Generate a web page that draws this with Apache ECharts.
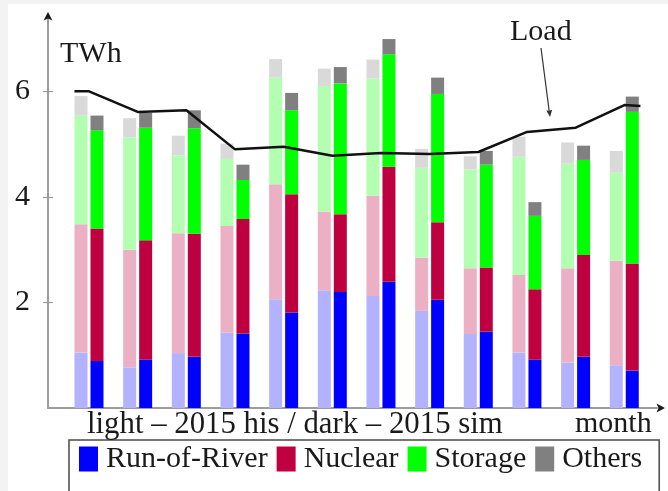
<!DOCTYPE html>
<html>
<head>
<meta charset="utf-8">
<script src="https://cdn.jsdelivr.net/npm/echarts@6/dist/echarts.min.js"></script>
<style>
  html, body { margin: 0; padding: 0; background: #f3f3f3; }
  #chart { width: 668px; height: 491px; }
</style>
</head>
<body>
<div id="chart"></div>
<script>
// Monthly electricity generation by source (TWh): 2015 historical vs. 2015 simulated
const months = [1, 2, 3, 4, 5, 6, 7, 8, 9, 10, 11, 12];

const hisRunOfRiver = [1.05, 0.77, 1.04, 1.43, 2.06, 2.23, 2.12, 1.84, 1.40, 1.05, 0.86, 0.81];
const hisNuclear    = [2.43, 2.23, 2.27, 2.02, 2.18, 1.49, 1.90, 1.01, 1.25, 1.47, 1.79, 1.98];
const hisStorage    = [2.06, 2.13, 1.48, 1.27, 2.02, 2.38, 2.22, 1.70, 1.87, 2.24, 1.98, 1.67];
const hisOthers     = [0.37, 0.36, 0.37, 0.29, 0.35, 0.33, 0.36, 0.36, 0.25, 0.38, 0.40, 0.41];

const simRunOfRiver = [0.89, 0.92, 0.97, 1.41, 1.81, 2.20, 2.39, 2.05, 1.45, 0.92, 0.97, 0.71];
const simNuclear    = [2.51, 2.26, 2.33, 2.17, 2.24, 1.47, 2.18, 1.47, 1.21, 1.33, 1.93, 2.03];
const simStorage    = [1.86, 2.13, 2.00, 0.74, 1.59, 2.48, 2.13, 2.43, 1.95, 1.39, 1.80, 2.87];
const simOthers     = [0.28, 0.28, 0.34, 0.29, 0.33, 0.31, 0.29, 0.31, 0.26, 0.26, 0.27, 0.29];

// Load curve, extended a little past the first and last month
const loadMonths = [0.7, 1, 2, 3, 4, 5, 6, 7, 8, 9, 10, 11, 12, 12.33];
const loadValues = [6.0, 6.0, 5.61, 5.64, 4.90, 4.95, 4.78, 4.83, 4.81, 4.85, 5.23, 5.31, 5.74, 5.72];

const yTicks = [2, 4, 6];
const sources = ['Run-of-River', 'Nuclear', 'Storage', 'Others'];

const FONT = '"Liberation Serif", "Times New Roman", serif';
const AXIS_GREY = '#9c9c9c';
const Y_MAX = 7.37;

const darkColors  = ['#0000ff', '#bf0040', '#00ff00', '#808080'];
const lightColors = ['#b2b2ff', '#ecb0c5', '#b2ffb2', '#d9d9d9'];

const hisSets = [hisRunOfRiver, hisNuclear, hisStorage, hisOthers];
const simSets = [simRunOfRiver, simNuclear, simStorage, simOthers];

// Bars live in grid 0 (category months); axes and the load curve live in grid 1.
const barSeries = [];
sources.forEach((name, k) => {
  barSeries.push({
    name: name + ' (2015 his)',
    type: 'bar',
    stack: 'his',
    xAxisIndex: 0,
    yAxisIndex: 0,
    barWidth: 13,
    barGap: '23%',
    itemStyle: { color: lightColors[k] },
    data: hisSets[k]
  });
});
sources.forEach((name, k) => {
  barSeries.push({
    name: name,
    type: 'bar',
    stack: 'sim',
    xAxisIndex: 0,
    yAxisIndex: 0,
    barWidth: 13,
    barGap: '23%',
    itemStyle: { color: darkColors[k] },
    data: simSets[k]
  });
});

const chart = echarts.init(document.getElementById('chart'), null, { renderer: 'canvas' });

const textStyleBase = { font: '30px ' + FONT, fill: '#1a1a1a', verticalAlign: 'middle' };

chart.setOption({
  backgroundColor: '#f3f3f3',
  animation: false,
  grid: [
    { left: 64.67, right: 19.4, top: 19, bottom: 83, containLabel: false },
    { left: 48, right: 11, top: 19, bottom: 83, containLabel: false }
  ],
  xAxis: [
    {
      type: 'category',
      gridIndex: 0,
      data: months,
      show: false
    },
    {
      type: 'value',
      gridIndex: 1,
      min: 0.157,
      max: 12.67,
      axisLine: { show: true, lineStyle: { color: AXIS_GREY, width: 2 } },
      axisTick: { show: false },
      axisLabel: { show: false },
      splitLine: { show: false }
    }
  ],
  yAxis: [
    {
      type: 'value',
      gridIndex: 0,
      min: 0,
      max: Y_MAX,
      show: false
    },
    {
      type: 'value',
      gridIndex: 1,
      position: 'left',
      min: 0,
      max: Y_MAX,
      axisLine: { show: true, onZero: false, lineStyle: { color: AXIS_GREY, width: 2 } },
      axisTick: { show: true, length: 5, customValues: yTicks, lineStyle: { color: AXIS_GREY, width: 1.2 } },
      axisLabel: { customValues: yTicks, margin: 18, fontFamily: FONT, fontSize: 30, color: '#1a1a1a' },
      splitLine: { show: false }
    },
    {
      type: 'value',
      gridIndex: 1,
      position: 'left',
      min: 0,
      max: Y_MAX,
      axisLine: { show: false },
      axisTick: { show: true, inside: true, length: 5, customValues: yTicks, lineStyle: { color: AXIS_GREY, width: 1.2 } },
      axisLabel: { show: false },
      splitLine: { show: false }
    }
  ],
  legend: {
    data: sources,
    left: 69,
    top: 440,
    orient: 'horizontal',
    icon: 'rect',
    itemWidth: 19,
    itemHeight: 25,
    itemGap: 9,
    padding: [4, 17, 30, 10],
    borderColor: '#4a4a4a',
    borderWidth: 1.5,
    backgroundColor: '#ffffff',
    textStyle: { fontFamily: FONT, fontSize: 30, color: '#1a1a1a', padding: [0, 0, 0, 3] }
  },
  series: barSeries.concat([
    {
      name: 'Load',
      type: 'line',
      xAxisIndex: 1,
      yAxisIndex: 1,
      data: loadMonths.map((m, i) => [m, loadValues[i]]),
      symbol: 'none',
      z: 5,
      lineStyle: { color: '#111111', width: 2.5 }
    }
  ]),
  graphic: [
    { type: 'rect', z: -10, shape: { x: 8, y: 4, width: 660, height: 487 }, style: { fill: '#ffffff' } },
    // axis arrowheads
    { type: 'polygon', z: 10, shape: { points: [[48, 12], [52.5, 20.5], [48, 18.5], [43.5, 20.5]] }, style: { fill: '#1a1a1a' } },
    { type: 'polygon', z: 10, shape: { points: [[665, 408], [656.5, 403.5], [658.5, 408], [656.5, 412.5]] }, style: { fill: '#1a1a1a' } },
    // axis titles
    { type: 'text', z: 10, style: Object.assign({ text: 'TWh', x: 60, y: 54 }, textStyleBase) },
    { type: 'text', z: 10, style: Object.assign({ text: 'month', x: 575, y: 424 }, textStyleBase) },
    { type: 'text', z: 10, style: Object.assign({}, textStyleBase, { text: 'light – 2015 his / dark – 2015 sim', x: 87, y: 425, font: '30.8px ' + FONT }) },
    // Load annotation with pointer
    { type: 'text', z: 10, style: Object.assign({ text: 'Load', x: 510, y: 32 }, textStyleBase) },
    { type: 'line', z: 10, shape: { x1: 541, y1: 48, x2: 549.2, y2: 111 }, style: { stroke: '#333333', lineWidth: 1.2 } },
    { type: 'polygon', z: 10, shape: { points: [[550, 117], [552.2, 109.8], [549.2, 110.8], [546.3, 110.5]] }, style: { fill: '#333333' } }
  ]
});
</script>
</body>
</html>
